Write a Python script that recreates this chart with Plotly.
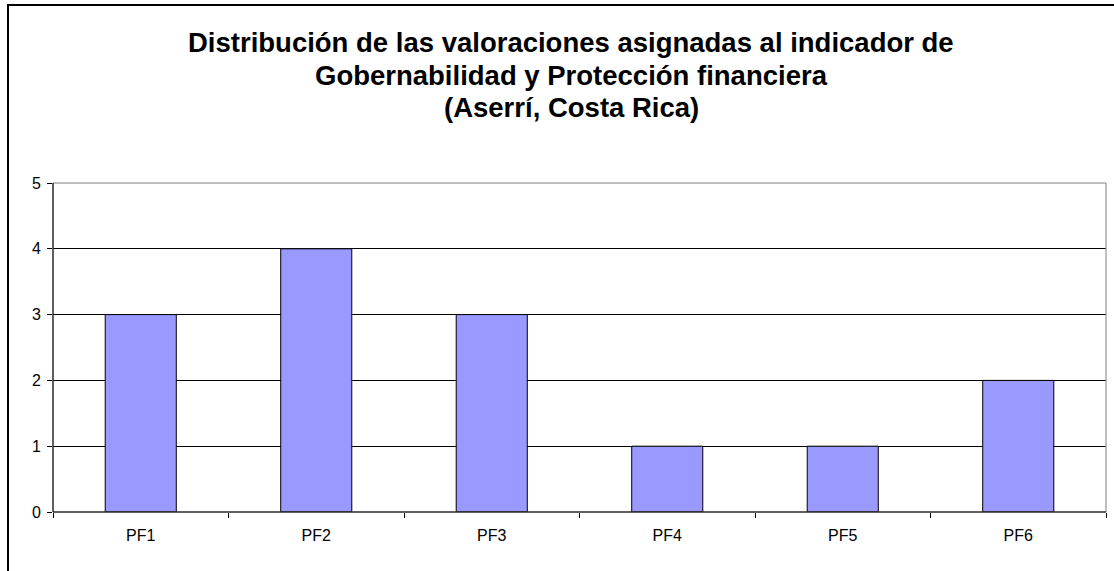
import plotly.graph_objects as go

categories = ["PF1", "PF2", "PF3", "PF4", "PF5", "PF6"]
values = [3, 4, 3, 1, 1, 2]
y_ticks = [0, 1, 2, 3, 4, 5]
title_lines = [
    "Distribución de las valoraciones asignadas al indicador de",
    "Gobernabilidad y Protección financiera",
    "(Aserrí, Costa Rica)",
]

W, H = 1114, 571
L, R, T, B = 53, 8, 183, 59
pw, ph = W - L - R, H - T - B

def px_x(x):
    return (x - L) / pw

def px_y(y):
    return (H - B - y) / ph

FONT = "Liberation Sans, Arial, sans-serif"

fig = go.Figure(go.Bar(
    x=categories, y=values,
    marker=dict(color="#9999FF", line=dict(color="#000000", width=1)),
    hoverinfo="x+y",
))

annotations = []
for line, yc in zip(title_lines, [42, 75, 108]):
    annotations.append(dict(
        text="<b>%s</b>" % line, x=px_x(571), y=px_y(yc), xref="paper", yref="paper",
        xanchor="center", yanchor="middle", showarrow=False,
        font=dict(family=FONT, size=27.5, color="#000000"),
    ))

shapes = [
    # outer chart frame (left and top visible)
    dict(type="rect", xref="paper", yref="paper",
         x0=px_x(8), x1=px_x(1140), y0=px_y(600), y1=px_y(5),
         line=dict(color="#000000", width=2), fillcolor="rgba(0,0,0,0)", layer="above"),
    # plot area border (gray)
    dict(type="rect", xref="paper", yref="paper", x0=0, x1=1, y0=0, y1=1,
         line=dict(color="#808080", width=1), fillcolor="rgba(0,0,0,0)", layer="above"),
    # axis lines black
    dict(type="line", xref="paper", yref="paper", x0=0, x1=0, y0=0, y1=1,
         line=dict(color="#000000", width=1), layer="above"),
    dict(type="line", xref="paper", yref="paper", x0=0, x1=1, y0=0, y1=0,
         line=dict(color="#000000", width=1), layer="above"),
]

fig.update_layout(
    width=W, height=H,
    margin=dict(l=L, r=R, t=T, b=B, pad=0),
    paper_bgcolor="#FFFFFF", plot_bgcolor="#FFFFFF",
    bargap=0.595,
    showlegend=False,
    annotations=annotations,
    shapes=shapes,
    font=dict(family=FONT, size=16, color="#000000"),
    xaxis=dict(
        type="category", tickson="boundaries", ticks="outside", ticklen=5,
        tickcolor="#000000", showgrid=False, showline=False, zeroline=False,
        tickfont=dict(family=FONT, size=16, color="#000000"),
        ticklabelstandoff=12,
    ),
    yaxis=dict(
        range=[0, 5], tickvals=y_ticks, ticks="outside", ticklen=5,
        tickcolor="#000000", showgrid=True, gridcolor="#000000", gridwidth=1,
        showline=False, zeroline=False,
        tickfont=dict(family=FONT, size=16, color="#000000"),
        ticklabelstandoff=3,
    ),
)

fig.write_html("out.html", config={"displayModeBar": False},
               post_script="document.body.style.margin='0';")
